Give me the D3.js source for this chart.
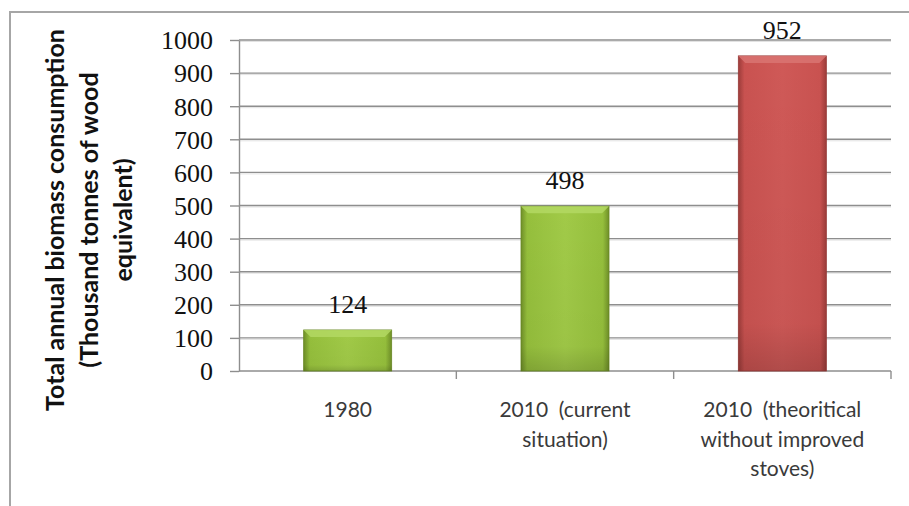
<!DOCTYPE html>
<html><head><meta charset="utf-8">
<script src="https://cdn.jsdelivr.net/npm/d3@7"></script>
<style>body{margin:0;background:#fff;} svg{display:block;}</style>
</head><body>
<svg id="chart" width="909" height="506"></svg>
<script>
const categories = [["1980"], ["2010  (current", "situation)"], ["2010  (theoritical", "without improved", "stoves)"]];
const categoryKeys = ["1980", "2010 (current situation)", "2010 (theoritical without improved stoves)"];
const values = [124, 498, 952];
const barColors = ["green", "green", "red"];
const yTicks = [0, 100, 200, 300, 400, 500, 600, 700, 800, 900, 1000];
const yTitle = ["Total annual biomass consumption", "(Thousand tonnes of wood", "equivalent)"];

const svg = d3.select("#chart");
const plotLeft = 239, plotRight = 891, plotTop = 40, plotBottom = 371;

// outer border
svg.append("rect").attr("x", 10).attr("y", 12).attr("width", 920).attr("height", 520)
  .attr("fill", "#fff").attr("stroke", "#a6a6a6").attr("stroke-width", 2);

const defs = svg.append("defs");
function grad(id, edge, mid, light) {
  const g = defs.append("linearGradient").attr("id", id).attr("x1", "0").attr("x2", "1").attr("y1", "0").attr("y2", "0");
  g.append("stop").attr("offset", "0%").attr("stop-color", edge);
  g.append("stop").attr("offset", "7%").attr("stop-color", mid);
  g.append("stop").attr("offset", "50%").attr("stop-color", light);
  g.append("stop").attr("offset", "93%").attr("stop-color", mid);
  g.append("stop").attr("offset", "100%").attr("stop-color", edge);
}
grad("g-green", "#6f8f28", "#95bf3c", "#a1ca48");
grad("g-red", "#9c3c3a", "#c95250", "#cf5957");
const vg = defs.append("linearGradient").attr("id", "g-shade").attr("x1", "0").attr("x2", "0").attr("y1", "0").attr("y2", "1");
vg.append("stop").attr("offset", "0%").attr("stop-color", "#000").attr("stop-opacity", 0);
vg.append("stop").attr("offset", "85%").attr("stop-color", "#000").attr("stop-opacity", 0.03);
vg.append("stop").attr("offset", "100%").attr("stop-color", "#000").attr("stop-opacity", 0.15);

const y = d3.scaleLinear().domain([0, 1000]).range([plotBottom, plotTop]);
const x = d3.scaleBand().domain(categoryKeys).range([plotLeft, plotRight]).paddingInner(0.595).paddingOuter(0.2975);
const xb = d3.scaleLinear().domain([0, categoryKeys.length]).range([plotLeft, plotRight]);

// gridlines
const grid = svg.append("g");
grid.selectAll("line.sh").data(yTicks.filter(d => d > 0)).join("line")
  .attr("x1", plotLeft).attr("x2", plotRight).attr("y1", d => y(d) + 1.5).attr("y2", d => y(d) + 1.5)
  .attr("stroke", "#e2e2e2").attr("stroke-width", 1);
grid.selectAll("line.g").data(yTicks).join("line")
  .attr("x1", plotLeft).attr("x2", plotRight).attr("y1", d => y(d)).attr("y2", d => y(d))
  .attr("stroke", "#8e8e8e").attr("stroke-width", 1.4);

// y axis
const yAxis = svg.append("g").attr("transform", `translate(${plotLeft},0)`)
  .call(d3.axisLeft(y).tickValues(yTicks).tickFormat(d3.format("d")).tickSize(9).tickPadding(17).tickSizeOuter(0));
yAxis.select(".domain").attr("stroke", "#8e8e8e").attr("stroke-width", 1.4);
yAxis.selectAll(".tick line").attr("stroke", "#8e8e8e").attr("stroke-width", 1.4);
yAxis.selectAll(".tick text").attr("font-family", "'Liberation Serif', serif").attr("font-size", 26)
  .attr("fill", "#111").attr("dy", "0.34em");

// x category tick marks
svg.append("g").selectAll("line").data(d3.range(1, categoryKeys.length + 1)).join("line")
  .attr("x1", d => xb(d)).attr("x2", d => xb(d)).attr("y1", plotBottom).attr("y2", plotBottom + 8)
  .attr("stroke", "#8e8e8e").attr("stroke-width", 1.4);

// bars
const bars = svg.append("g").selectAll("g").data(values).join("g");
bars.append("rect")
  .attr("x", (d, i) => x(categoryKeys[i])).attr("width", x.bandwidth())
  .attr("y", d => y(d)).attr("height", d => y(0) - y(d))
  .attr("fill", (d, i) => barColors[i] === "green" ? "url(#g-green)" : "url(#g-red)")
  .attr("stroke", (d, i) => barColors[i] === "green" ? "#6a8a26" : "#983a38").attr("stroke-width", 0.8);
bars.append("rect")
  .attr("x", (d, i) => x(categoryKeys[i])).attr("width", x.bandwidth())
  .attr("y", d => y(d)).attr("height", d => y(0) - y(d))
  .attr("fill", "url(#g-shade)");
// top bevel
bars.append("path")
  .attr("d", (d, i) => {
    const x0 = x(categoryKeys[i]), x1 = x0 + x.bandwidth(), yt = y(d), b = 7;
    return `M${x0},${yt}L${x1},${yt}L${x1 - b},${yt + b}L${x0 + b},${yt + b}Z`;
  })
  .attr("fill", (d, i) => barColors[i] === "green" ? "#b3d863" : "#d97472").attr("opacity", 0.85);

// data labels
svg.append("g").selectAll("text").data(values).join("text")
  .attr("x", (d, i) => x(categoryKeys[i]) + x.bandwidth() / 2)
  .attr("y", d => y(d) - 17)
  .attr("text-anchor", "middle")
  .attr("font-family", "'Liberation Serif', serif").attr("font-size", 26).attr("fill", "#111")
  .text(d => d);

// category labels
const cl = svg.append("g").selectAll("text").data(categories).join("text")
  .attr("text-anchor", "middle")
  .style("white-space", "pre")
  .attr("font-family", "Lato, 'Liberation Sans', sans-serif").attr("font-size", 21).attr("fill", "#3a3a3a")
  .attr("transform", (d, i) => `translate(${x(categoryKeys[i]) + x.bandwidth() / 2},417)`);
cl.selectAll("tspan").data(d => d).join("tspan")
  .attr("x", 0).attr("dy", (d, j) => j === 0 ? 0 : 29.5).text(d => d);

// y title
const yt = svg.append("text")
  .attr("transform", "translate(64,220) rotate(-90)")
  .attr("text-anchor", "middle")
  .attr("font-family", "Lato, 'Liberation Sans', sans-serif").attr("font-weight", "bold")
  .attr("font-size", 25).attr("fill", "#111");
yt.selectAll("tspan").data(yTitle).join("tspan")
  .attr("x", 0).attr("dy", (d, j) => j === 0 ? 0 : 34).text(d => d);
</script>
</body></html>
